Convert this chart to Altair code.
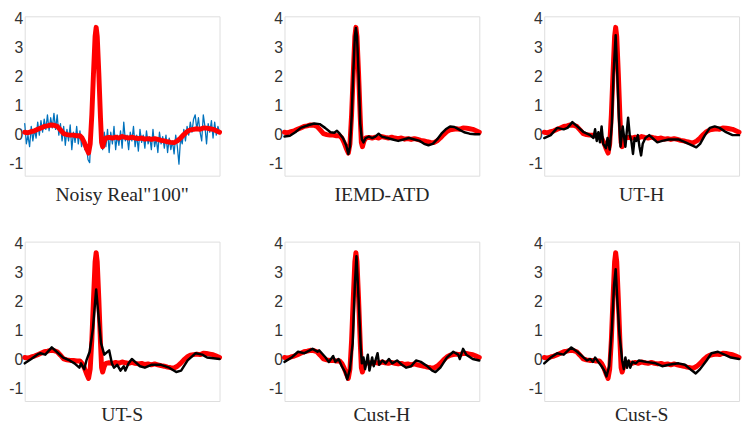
import altair as alt
import pandas as pd

# ---------------- data (x = sample index within the beat window) ----------------
clean_x = [0, 6, 12, 18, 24, 30, 36, 42, 48, 54, 60, 66, 72, 78, 84, 90, 96, 102, 106, 110,
           114, 118, 121, 124, 127, 130, 132, 134, 137, 140, 142, 144, 147, 150, 156, 162, 168,
           174, 180, 186, 192, 198, 204, 210, 216, 222, 228, 234, 240, 246, 252, 258, 264, 270,
           276, 282, 288, 294, 300, 306, 312, 318, 324, 330, 336, 342, 348, 354, 360]
clean_y = [0.0, -0.02, 0.02, 0.05, 0.1, 0.15, 0.2, 0.22, 0.25, 0.24, 0.2, 0.08, -0.05, -0.08,
           -0.1, -0.1, -0.12, -0.12, -0.2, -0.35, -0.55, -0.72, -0.4, 0.6, 2.0, 3.3, 3.62, 3.3,
           2.0, 0.5, -0.35, -0.5, -0.3, -0.2, -0.18, -0.2, -0.17, -0.2, -0.15, -0.18, -0.2,
           -0.17, -0.2, -0.22, -0.2, -0.24, -0.22, -0.25, -0.22, -0.25, -0.28, -0.3, -0.33,
           -0.35, -0.36, -0.3, -0.2, -0.08, 0.02, 0.08, 0.1, 0.12, 0.1, 0.15, 0.14, 0.12, 0.1,
           0.05, 0.0]

noisy_y = [0.3, -0.4, -0.1, -0.5, 0.2, -0.3, 0.1, -0.2, 0.35, -0.1, 0.4, 0.0, 0.45, 0.1, 0.6,
           0.05, 0.5, 0.15, 0.65, 0.1, 0.6, -0.1, 0.3, -0.3, 0.2, -0.45, 0.1, -0.3, 0.25, -0.6,
           0.0, -0.35, 0.2, -0.4, 0.05, -0.5, -0.2, -0.6, -0.5, -0.95, -1.05, 0.2, 1.8, 3.2,
           3.55, 3.0, 1.6, 0.1, -0.6, 0.0, -0.5, 0.1, -0.7, 0.0, -0.4, 0.2, -0.6, -0.1, -0.45,
           0.05, -0.55, 0.35, -0.3, -0.1, -0.6, 0.0, -0.3, 0.2, -0.5, -0.1, -0.65, 0.1, -0.35,
           -0.1, -0.55, 0.05, -0.4, -0.15, -0.6, 0.1, -0.5, -0.2, -0.7, 0.0, -0.4, -0.15, -0.55,
           -0.1, -0.7, -0.2, -0.6, -0.3, -0.75, -0.1, -0.5, -1.1, -0.2, -0.4, 0.1, -0.3, 0.2,
           -0.1, 0.35, 0.0, 0.45, 0.6, 0.1, 0.5, 0.0, -0.3, 0.6, 0.2, -0.4, 0.3, 0.0, 0.4, -0.2,
           0.35, -0.1, 0.2, 0.0]
noisy_x = [3 * i for i in range(len(noisy_y))]

iemd_x = [0, 10, 20, 30, 45, 55, 65, 75, 85, 92, 97, 102, 108, 114, 118, 121, 124, 127, 130,
          132, 134, 137, 140, 143, 146, 150, 156, 162, 168, 174, 180, 190, 200, 210, 220, 230,
          240, 250, 258, 266, 274, 282, 290, 298, 306, 314, 322, 332, 342, 352, 360]
iemd_y = [-0.15, -0.12, 0.0, 0.15, 0.25, 0.3, 0.28, 0.15, 0.0, -0.02, 0.05, -0.05, -0.2, -0.45,
          -0.75, -0.5, 0.5, 2.0, 3.3, 3.6, 3.3, 2.0, 0.3, -0.25, -0.35, -0.2, -0.15, -0.2, -0.15,
          -0.05, -0.15, -0.2, -0.25, -0.3, -0.25, -0.2, -0.25, -0.3, -0.4, -0.45, -0.4, -0.25,
          -0.05, 0.1, 0.2, 0.18, 0.1, 0.0, -0.05, -0.07, -0.07]

uth_x = [0, 12, 24, 36, 43, 52, 61, 73, 85, 91, 94, 97, 100, 103, 106, 109, 114, 117, 121, 125,
         128, 132, 135, 138, 141, 145, 150, 155, 158, 161, 164, 167, 170, 173, 176, 179, 182,
         187, 194, 200, 209, 218, 230, 248, 261, 273, 281, 288, 297, 306, 315, 324, 336, 348, 360]
uth_y = [-0.2, -0.1, 0.15, 0.1, 0.15, 0.35, 0.2, 0.0, -0.1, -0.2, 0.1, -0.3, 0.0, -0.35, 0.2,
         -0.4, -0.55, -0.2, -0.6, 0.3, 2.0, 3.35, 2.0, 0.5, -0.5, 0.2, -0.5, 0.5, -0.1, -0.3,
         -0.75, -0.2, -0.3, -0.1, -0.5, -0.8, -0.4, -0.2, -0.1, -0.2, -0.35, -0.3, -0.25, -0.25,
         -0.35, -0.45, -0.52, -0.4, -0.1, 0.15, 0.2, 0.15, 0.0, -0.1, -0.1]

uts_x = [0, 12, 23, 29, 38, 50, 59, 71, 83, 92, 101, 104, 110, 114, 120, 126, 132, 136, 141,
         147, 156, 161, 165, 171, 177, 183, 186, 192, 198, 204, 213, 222, 234, 252, 267, 280,
         289, 301, 316, 328, 337, 360]
uts_y = [-0.2, -0.05, 0.1, 0.15, 0.1, 0.35, 0.2, 0.0, -0.1, -0.2, -0.35, -0.2, -0.4, -0.1, 0.2,
         1.0, 2.35, 1.5, 0.5, 0.1, 0.25, -0.2, -0.35, -0.25, -0.45, -0.3, -0.45, -0.2, -0.05,
         -0.15, -0.3, -0.35, -0.25, -0.25, -0.35, -0.5, -0.45, -0.1, 0.15, 0.1, 0.0, -0.05]

cuh_x = [0, 13, 25, 37, 52, 61, 64, 76, 82, 90, 94, 100, 106, 112, 116, 121, 126, 130, 133,
         137, 141, 143, 146, 149, 154, 157, 162, 165, 172, 175, 181, 187, 193, 199, 208, 217,
         225, 234, 243, 252, 264, 273, 279, 288, 300, 312, 321, 324, 330, 336, 348, 360]
cuh_y = [-0.15, 0.0, 0.2, 0.15, 0.3, 0.2, 0.25, 0.0, -0.15, 0.05, -0.15, -0.05, -0.3, -0.5,
         -0.75, -0.4, 0.5, 2.5, 3.5, 2.0, 0.3, -0.2, 0.0, -0.4, 0.1, -0.45, 0.0, -0.3, 0.15,
         -0.25, -0.1, -0.2, -0.05, -0.2, -0.1, -0.25, -0.35, -0.3, -0.1, -0.15, -0.3, -0.45,
         -0.5, -0.35, 0.0, 0.2, 0.1, -0.05, 0.3, 0.1, -0.05, -0.1]

cus_x = [0, 12, 24, 36, 50, 61, 73, 79, 85, 90, 94, 100, 106, 111, 115, 120, 125, 129, 132,
         135, 139, 144, 147, 150, 153, 156, 159, 163, 169, 175, 188, 206, 218, 230, 248, 260,
         273, 280, 288, 300, 309, 321, 333, 345, 360]
cus_y = [-0.2, 0.0, 0.15, 0.1, 0.35, 0.2, 0.0, -0.1, -0.05, -0.15, 0.0, -0.15, -0.3, -0.45,
         -0.65, -0.3, 1.0, 2.5, 3.05, 2.0, 0.8, -0.1, -0.4, 0.0, -0.35, -0.1, -0.35, -0.15,
         -0.2, -0.1, -0.15, -0.2, -0.3, -0.25, -0.2, -0.25, -0.45, -0.55, -0.4, -0.1, 0.15,
         0.2, 0.1, 0.0, -0.05]

titles = ['Noisy Real"100"', "IEMD-ATD", "UT-H", "UT-S", "Cust-H", "Cust-S"]
y_ticks = [-1, 0, 1, 2, 3, 4]

# ---------------- chart ----------------
W, H = 198, 162
x_scale = alt.Scale(domain=[0, 360], nice=False, zero=False)
y_scale = alt.Scale(domain=[-1.5, 4], nice=False, zero=False)
y_axis = alt.Axis(values=y_ticks, domain=False, ticks=False, grid=False, title=None,
                  labelFont="Liberation Sans", labelFontSize=16, labelColor="#333333",
                  labelPadding=2, labelOffset=2, labelExpr="'' + datum.value")

clean_df = pd.DataFrame({"x": clean_x, "y": clean_y})


def line(df, color, width):
    return alt.Chart(df).mark_line(color=color, strokeWidth=width, strokeJoin="round",
                                   strokeCap="round").encode(
        x=alt.X("x:Q", scale=x_scale, axis=None),
        y=alt.Y("y:Q", scale=y_scale, axis=y_axis),
    )


def panel(title, ox, oy, color, width, red_on_top, offset):
    other = line(pd.DataFrame({"x": ox, "y": oy}), color, width)
    red = line(clean_df, "#FF0000", 5)
    layers = [other, red] if red_on_top else [red, other]
    return alt.layer(*layers).properties(
        width=W, height=H,
        title=alt.TitleParams(text=title, orient="bottom", font="Liberation Serif",
                              fontSize=20, fontWeight="normal", color="#262626",
                              offset=offset),
    )


p1 = panel(titles[0], noisy_x, noisy_y, "#0072BD", 1.3, True, 10)
p2 = panel(titles[1], iemd_x, iemd_y, "#000000", 2.5, False, 10)
p3 = panel(titles[2], uth_x, uth_y, "#000000", 2.5, False, 10)
p4 = panel(titles[3], uts_x, uts_y, "#000000", 2.5, False, 4)
p5 = panel(titles[4], cuh_x, cuh_y, "#000000", 2.5, False, 4)
p6 = panel(titles[5], cus_x, cus_y, "#000000", 2.5, False, 4)

row1 = alt.hconcat(p1, p2, p3, spacing=46)
row2 = alt.hconcat(p4, p5, p6, spacing=46)
chart = alt.vconcat(row1, row2, spacing=29).properties(
    padding={"left": 0, "top": -2, "right": 0, "bottom": 0}
).configure_view(stroke="#707070", strokeWidth=1).configure(background="white")

chart.save("out.html", embed_options={"renderer": "svg", "actions": False})
